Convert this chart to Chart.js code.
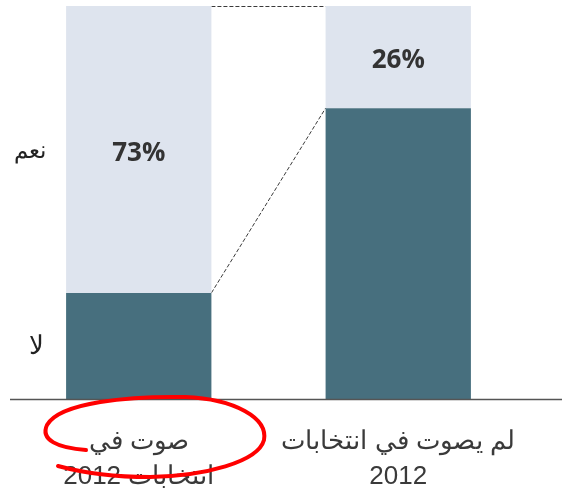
<!DOCTYPE html>
<html>
<head>
<meta charset="utf-8">
<script src="https://cdn.jsdelivr.net/npm/chart.js@4.4.0/dist/chart.umd.min.js"></script>
<style>
  html, body { margin: 0; padding: 0; background: #fff; }
  #wrap { width: 562px; height: 492px; }
</style>
</head>
<body>
<div id="wrap"><canvas id="chart" dir="rtl" width="562" height="492"></canvas></div>
<script>
// categories (x axis, two lines each)
const categories = [['صوت في', 'انتخابات 2012'], ['لم يصوت في انتخابات', '2012']];
// series: "no" (bottom, dark) and "yes" (top, light)
const noValues = [27, 74];
const yesValues = [73, 26];
const seriesNames = ['لا', 'نعم'];
// only the top segment carries a label
const yesLabels = ['73%', '26%'];

const DARK = '#476f7e';
const LIGHT = '#dee4ee';

// data labels, side labels, connectors, baseline and the red marker circle
const overlay = {
    id: 'overlay',
    beforeDatasetsDraw(chart) {
        const ctx = chart.ctx;
        const bottomBars = chart.getDatasetMeta(0).data;
        const topBars = chart.getDatasetMeta(1).data;
        ctx.save();
        ctx.strokeStyle = '#3a3a3a';
        ctx.lineWidth = 1;
        ctx.setLineDash([4, 2]);
        // top connector
        const l = topBars[0], r = topBars[1];
        ctx.beginPath();
        ctx.moveTo(l.x + l.width / 2, l.y + 0.5);
        ctx.lineTo(r.x - r.width / 2, r.y + 0.5);
        ctx.stroke();
        // connector between the dark segments
        const lb = bottomBars[0], rb = bottomBars[1];
        ctx.beginPath();
        ctx.moveTo(lb.x + lb.width / 2, lb.y);
        ctx.lineTo(rb.x - rb.width / 2, rb.y);
        ctx.stroke();
        ctx.restore();
    },
    afterDatasetsDraw(chart) {
        const ctx = chart.ctx;
        const area = chart.chartArea;
        const y = chart.scales.y;
        const topBars = chart.getDatasetMeta(1).data;
        ctx.save();
        // percent labels in the light segments
        ctx.fillStyle = '#333';
        ctx.font = 'bold 26px "Open Sans", sans-serif';
        ctx.textAlign = 'center';
        ctx.textBaseline = 'middle';
        topBars.forEach((bar, i) => {
            ctx.fillText(yesLabels[i], bar.x, (bar.y + bar.base) / 2 + 4);
        });
        // side labels, placed at the middle of the left bar's segments
        ctx.fillStyle = '#222';
        ctx.font = '23px "Liberation Sans", Arial, sans-serif';
        ctx.fillText(seriesNames[1], 30, y.getPixelForValue(noValues[0] + yesValues[0] / 2) + 2);
        ctx.font = '26px "Liberation Sans", Arial, sans-serif';
        ctx.fillText(seriesNames[0], 36, y.getPixelForValue(noValues[0] / 2) + 1);
        // baseline
        ctx.strokeStyle = '#555';
        ctx.lineWidth = 1.5;
        ctx.beginPath();
        ctx.moveTo(area.left + 1, area.bottom + 0.5);
        ctx.lineTo(chart.width, area.bottom + 0.5);
        ctx.stroke();
        // hand-drawn red circle around the first category label
        ctx.strokeStyle = '#ff0000';
        ctx.lineWidth = 4;
        ctx.lineCap = 'round';
        ctx.beginPath();
        ctx.moveTo(86, 450);
        ctx.bezierCurveTo(58, 448, 40, 440, 47, 425);
        ctx.bezierCurveTo(60, 402, 130, 396, 185, 397);
        ctx.bezierCurveTo(235, 399, 268, 418, 264, 440);
        ctx.bezierCurveTo(258, 462, 205, 476, 150, 477);
        ctx.bezierCurveTo(110, 477, 80, 472, 58, 466);
        ctx.stroke();
        ctx.restore();
    }
};

new Chart(document.getElementById('chart'), {
    type: 'bar',
    data: {
        labels: categories,
        datasets: [
            { label: seriesNames[0], data: noValues, backgroundColor: DARK },
            { label: seriesNames[1], data: yesValues, backgroundColor: LIGHT }
        ]
    },
    options: {
        responsive: false,
        animation: false,
        layout: { padding: { left: 9, right: 34, top: 6, bottom: 0 } },
        datasets: { bar: { barPercentage: 0.56, categoryPercentage: 1 } },
        plugins: { legend: { display: false }, tooltip: { enabled: false } },
        scales: {
            x: {
                stacked: true,
                grid: { display: false },
                border: { display: false },
                ticks: {
                    color: '#3a3a3a',
                    font: { family: '"Liberation Sans", Arial, sans-serif', size: 26, lineHeight: 1.32 },
                    padding: 18,
                    maxRotation: 0,
                    autoSkip: false
                },
                afterFit(scale) { scale.height = 93; }
            },
            y: {
                stacked: true,
                display: false,
                min: 0,
                max: 100
            }
        }
    },
    plugins: [overlay]
});
</script>
</body>
</html>
